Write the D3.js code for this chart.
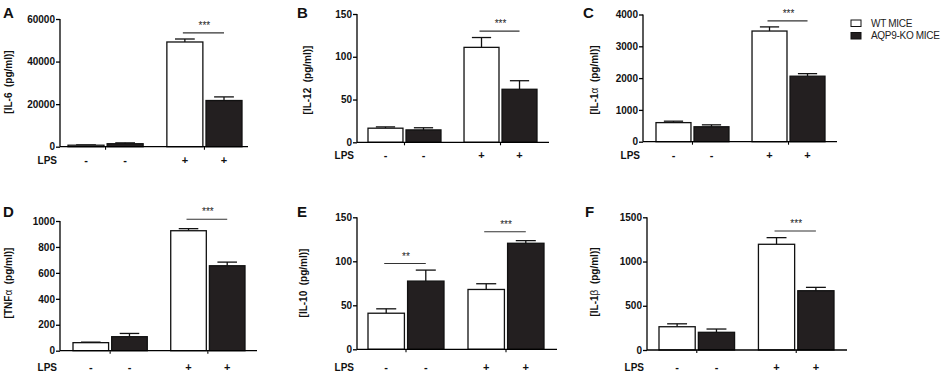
<!DOCTYPE html>
<html>
<head>
<meta charset="utf-8">
<script src="https://cdn.jsdelivr.net/npm/d3@7"></script>
<style>
  body { margin: 0; background: #fff; }
  svg { display: block; font-family: "Liberation Sans", Arial, sans-serif; }
</style>
</head>
<body>
<div id="chart-area"></div>
<script>
// ---- data ----
var lpsGroups = ["LPS-", "LPS+"]
var strains = ["WT MICE", "AQP9-KO MICE"]
var lpsMarks = ["-", "+"]

var il6Mean = [700, 1400, 49200, 21700]
var il6Err = [150, 400, 1400, 1700]
var il6Ticks = [0, 20000, 40000, 60000]

var il12Mean = [16.5, 14.5, 111, 62]
var il12Err = [1.5, 2.5, 11.5, 10]
var il12Ticks = [0, 50, 100, 150]

var il1aMean = [600, 470, 3480, 2060]
var il1aErr = [45, 60, 130, 80]
var il1aTicks = [0, 1000, 2000, 3000, 4000]

var tnfMean = [62, 108, 925, 655]
var tnfErr = [4, 25, 16, 28]
var tnfTicks = [0, 200, 400, 600, 800, 1000]

var il10Mean = [41, 77.5, 68, 120.5]
var il10Err = [5, 12.5, 6.5, 3]
var il10Ticks = [0, 50, 100, 150]

var il1bMean = [263, 200, 1195, 670]
var il1bErr = [33, 37, 75, 38]
var il1bTicks = [0, 500, 1000, 1500]

// significance brackets: bar index from, to, label, level (data units)
var il6Sig = [[2, 3, "***", 53500]]
var il12Sig = [[2, 3, "***", 130]]
var il1aSig = [[2, 3, "***", 3800]]
var tnfSig = [[2, 3, "***", 1013]]
var il10Sig = [[0, 1, "**", 97.5], [2, 3, "***", 133.5]]
var il1bSig = [[2, 3, "***", 1345]]

// ---- layout ----
var panels = [
  { letter: "A", name: "IL-6", greek: "", mean: il6Mean, err: il6Err, ticks: il6Ticks, sig: il6Sig,
    x0: 60, x1: 248, padL: 8, padR: 6, yTop: 19, yBot: 146.7, lpsY: 160, lx: 3, ly: 18, labX: 8, labY: 82 },
  { letter: "B", name: "IL-12", greek: "", mean: il12Mean, err: il12Err, ticks: il12Ticks, sig: il12Sig,
    x0: 357, x1: 549, padL: 11, padR: 12, yTop: 14, yBot: 142.3, lpsY: 155, lx: 297, ly: 18, labX: 307, labY: 80 },
  { letter: "C", name: "IL-1", greek: "\u03b1", mean: il1aMean, err: il1aErr, ticks: il1aTicks, sig: il1aSig,
    x0: 643, x1: 837, padL: 13, padR: 12, yTop: 14.5, yBot: 141.7, lpsY: 155, lx: 583, ly: 18, labX: 594, labY: 80 },
  { letter: "D", name: "TNF", greek: "\u03b1", mean: tnfMean, err: tnfErr, ticks: tnfTicks, sig: tnfSig,
    x0: 60, x1: 257, padL: 13, padR: 12, yTop: 221, yBot: 350.7, lpsY: 367, lx: 3, ly: 217, labX: 8, labY: 283 },
  { letter: "E", name: "IL-10", greek: "", mean: il10Mean, err: il10Err, ticks: il10Ticks, sig: il10Sig,
    x0: 357, x1: 557, padL: 11, padR: 13, yTop: 217.3, yBot: 349.3, lpsY: 367, lx: 297, ly: 217, labX: 303, labY: 283 },
  { letter: "F", name: "IL-1", greek: "\u03b2", mean: il1bMean, err: il1bErr, ticks: il1bTicks, sig: il1bSig,
    x0: 647, x1: 847, padL: 12, padR: 13, yTop: 217.3, yBot: 350, lpsY: 367, lx: 585, ly: 217, labX: 594, labY: 282 }
]

var fills = ["#ffffff", "#231f20"]

var svg = d3.select("#chart-area").append("svg")
    .attr("width", 948)
    .attr("height", 374)

panels.forEach(function(p) {
  var g = svg.append("g")

  var xGroup = d3.scaleBand()
      .domain(lpsGroups)
      .range([p.x0 + p.padL, p.x1 - p.padR])
      .paddingInner(0.24)
      .paddingOuter(0)

  var xStrain = d3.scaleBand()
      .domain(strains)
      .range([0, xGroup.bandwidth()])
      .paddingInner(0.08)

  var y = d3.scaleLinear()
      .domain([0, d3.max(p.ticks)])
      .range([p.yBot, p.yTop])

  var bars = p.mean.map(function(m, i) {
    return { group: lpsGroups[Math.floor(i / 2)], strain: strains[i % 2], mean: m, err: p.err[i], i: i }
  })

  function cx(i) {
    var b = bars[i]
    return xGroup(b.group) + xStrain(b.strain) + xStrain.bandwidth() / 2
  }

  // error bars (upper only), drawn behind the bars
  var capW = xStrain.bandwidth() * 0.55
  bars.forEach(function(b) {
    var c = cx(b.i)
    g.append("line")
      .attr("x1", c).attr("x2", c)
      .attr("y1", y(b.mean)).attr("y2", y(b.mean + b.err))
      .attr("stroke", "#111").attr("stroke-width", 1.3)
    g.append("line")
      .attr("x1", c - capW / 2).attr("x2", c + capW / 2)
      .attr("y1", y(b.mean + b.err)).attr("y2", y(b.mean + b.err))
      .attr("stroke", "#111").attr("stroke-width", 1.3)
  })

  g.selectAll("rect.bar")
    .data(bars)
    .enter().append("rect")
      .attr("class", "bar")
      .attr("x", function(d) { return xGroup(d.group) + xStrain(d.strain) })
      .attr("y", function(d) { return y(d.mean) })
      .attr("width", xStrain.bandwidth())
      .attr("height", function(d) { return p.yBot - y(d.mean) })
      .attr("fill", function(d) { return fills[strains.indexOf(d.strain)] })
      .attr("stroke", "#111")
      .attr("stroke-width", 1.3)

  // y axis
  var yAxis = g.append("g")
      .attr("transform", "translate(" + p.x0 + ",0)")
      .call(d3.axisLeft(y).tickValues(p.ticks).tickSize(4).tickPadding(1).tickFormat(d3.format("d")))
  yAxis.select(".domain").attr("d", "M0," + p.yBot + "V" + p.yTop).attr("stroke-width", 1.3)
  yAxis.selectAll(".tick line").attr("stroke-width", 1.3)
  yAxis.selectAll("text")
      .attr("font-size", "10px")
      .attr("font-weight", "bold")
      .attr("fill", "#111")

  // x axis
  var xAxis = g.append("g")
      .attr("transform", "translate(0," + p.yBot + ")")
      .call(d3.axisBottom(xGroup).tickSize(3).tickFormat(""))
  xAxis.select(".domain").attr("d", "M" + p.x0 + ",0H" + p.x1).attr("stroke-width", 1.3)
  xAxis.selectAll(".tick line").attr("stroke-width", 1.1)

  // LPS row
  g.append("text")
    .attr("x", p.x0 - 3)
    .attr("y", p.lpsY)
    .attr("dy", "0.35em")
    .attr("text-anchor", "end")
    .attr("font-size", "10px")
    .attr("font-weight", "bold")
    .attr("fill", "#111")
    .text("LPS")

  g.selectAll("text.lps")
    .data(bars)
    .enter().append("text")
      .attr("class", "lps")
      .attr("x", function(d) { return cx(d.i) })
      .attr("y", p.lpsY)
      .attr("dy", "0.35em")
      .attr("text-anchor", "middle")
      .attr("font-size", "11px")
      .attr("font-weight", "bold")
      .attr("fill", "#111")
      .text(function(d) { return lpsMarks[lpsGroups.indexOf(d.group)] })

  // significance
  p.sig.forEach(function(s) {
    var sy = y(s[3])
    g.append("line")
      .attr("x1", cx(s[0]) - 2).attr("x2", cx(s[1]))
      .attr("y1", sy).attr("y2", sy)
      .attr("stroke", "#333").attr("stroke-width", 1.1)
    g.append("text")
      .attr("x", (cx(s[0]) + cx(s[1])) / 2)
      .attr("y", sy - 4)
      .attr("text-anchor", "middle")
      .attr("font-size", "10px")
      .attr("fill", "#222")
      .text(s[2])
  })

  // panel letter
  g.append("text")
    .attr("x", p.lx)
    .attr("y", p.ly)
    .attr("font-size", "15px")
    .attr("font-weight", "bold")
    .attr("fill", "#111")
    .text(p.letter)

  // y label
  var lab = g.append("text")
    .attr("transform", "translate(" + p.labX + "," + p.labY + ") rotate(-90)")
    .attr("text-anchor", "middle")
    .attr("dy", "0.35em")
    .attr("font-size", "10px")
    .attr("font-weight", "bold")
    .attr("fill", "#111")
    .style("white-space", "pre")
  lab.append("tspan").text("[" + p.name)
  if (p.greek) {
    lab.append("tspan").attr("font-weight", "normal").text(p.greek)
  }
  lab.append("tspan").text("  (pg/ml)]")
})

// legend
var legend = svg.append("g")
strains.forEach(function(s, i) {
  legend.append("rect")
    .attr("x", 851)
    .attr("y", 20 + i * 12.5)
    .attr("width", 10)
    .attr("height", 6.5)
    .attr("fill", fills[i])
    .attr("stroke", "#111")
    .attr("stroke-width", 1)
  legend.append("text")
    .attr("x", 871)
    .attr("y", 23.3 + i * 12.5)
    .attr("dy", "0.35em")
    .attr("font-size", "10px")
    .attr("letter-spacing", "-0.3px")
    .attr("fill", "#222")
    .text(s)
})
</script>
</body>
</html>
